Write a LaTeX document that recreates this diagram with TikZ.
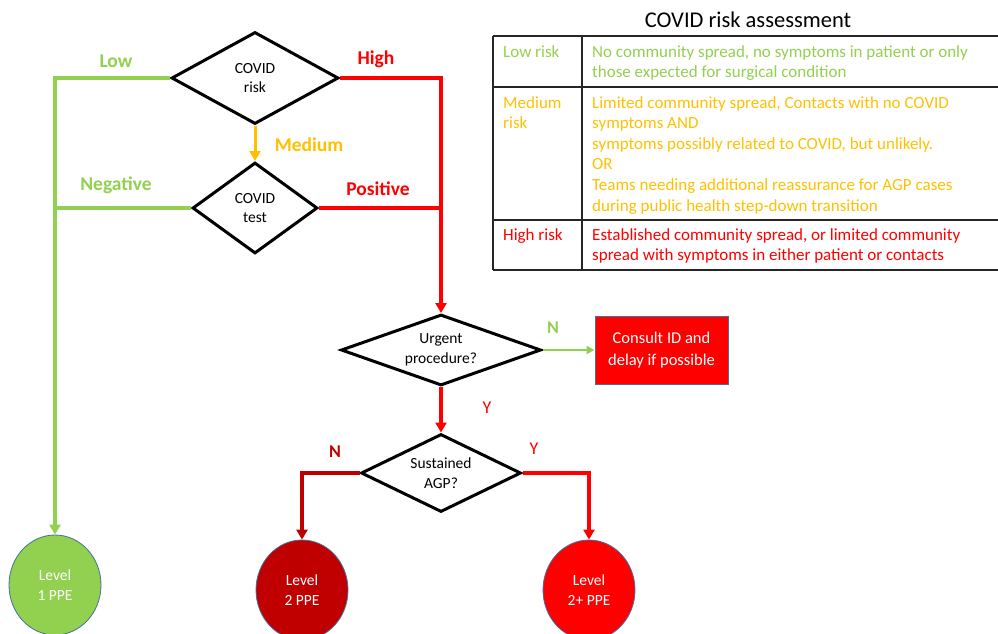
\documentclass[tikz,border=0pt]{standalone}
\usepackage{fontspec}
\setmainfont{Carlito}
\usepackage{xcolor}
\usepackage{tikz}
\usetikzlibrary{arrows.meta, positioning, calc, shapes.geometric}
\definecolor{lowgreen}{HTML}{92D050}
\definecolor{medorange}{HTML}{FFC000}
\definecolor{highred}{HTML}{FF0000}
\definecolor{deepred}{HTML}{C00000}
\definecolor{edgeblue}{HTML}{41719C}

\begin{document}
\begin{tikzpicture}[x=1pt,y=-1pt,
  decision/.style={diamond, draw=black, line width=3pt, inner sep=0pt, align=center, font=\fontsize{15.5}{19.5}\selectfont},
  level/.style={ellipse, draw=edgeblue, line width=0.8pt, minimum width=92pt, minimum height=100pt, inner sep=0pt, text=white, align=center, font=\fontsize{15.5}{20.5}\selectfont},
  wire/.style={line width=3.5pt},
  flow/.style={wire, -{Triangle[length=10pt,width=11pt]}},
  tag/.style={font=\bfseries\fontsize{19.5}{22}\selectfont},
  yn/.style={font=\fontsize{18}{20}\selectfont},
  cell/.style={anchor=north west, align=left, inner sep=0pt, font=\fontsize{17}{20.6}\selectfont}]
\useasboundingbox (0,0) rectangle (998,634);
% Decisions
\node[decision, aspect=1.8, minimum width=167pt, minimum height=92pt] (risk) at (255,78) {COVID\\risk};
\node[decision, aspect=1.37, minimum width=125pt, minimum height=91pt] (test) at (255,208) {COVID\\test};
\node[decision, aspect=2.8, minimum width=200pt, minimum height=71pt] (urgent) at (441,350) {Urgent\\procedure?};
\node[decision, aspect=2.05, minimum width=160pt, minimum height=78pt] (agp) at (441,473) {Sustained\\AGP?};
\node[draw=edgeblue, fill=highred, line width=1pt, minimum width=133pt, minimum height=68pt, text=white, align=center, font=\fontsize{16.5}{22}\selectfont] (consult) at (661.5,350) {Consult ID and\\delay if possible};
% Outcomes
\node[level, fill=lowgreen] (lone) at (55,585) {Level\\1 PPE};
\node[level, fill=deepred] (ltwo) at (302,590) {Level\\2 PPE};
\node[level, fill=highred] (ltwoplus) at (589,590) {Level\\2+ PPE};
% Connectors
\draw[flow, lowgreen] (risk.west) -| (lone.north);
\draw[wire, lowgreen] (test.west) -- (test.west -| lone.north);
\draw[flow, highred] (risk.east) -| (urgent.north);
\draw[wire, highred] (test.east) -- (test.east -| urgent.north);
\draw[flow, medorange, line width=3pt] (risk.south) -- (test.north);
\draw[lowgreen, line width=2.2pt, -{Triangle[length=8pt,width=8pt]}] (urgent.east) -- (consult.west);
\draw[flow, highred] (urgent.south) -- (agp.north);
\draw[flow, deepred] (agp.west) -| (ltwo.north);
\draw[flow, highred] (agp.east) -| (ltwoplus.north);
% Labels
\node[tag, lowgreen] (lowlbl) at (116,61) {Low};
\node[tag, highred] (highlbl) at (376,59) {High};
\node[tag, medorange] (medlbl) at (309,145) {Medium};
\node[tag, lowgreen] (neglbl) at (116,185) {Negative};
\node[tag, highred] (poslbl) at (378,189) {Positive};
\node[yn, lowgreen, font=\bfseries\fontsize{18}{20}\selectfont] (urgno) at (553,328) {N};
\node[yn, highred] (urgyes) at (487,408) {Y};
\node[yn, deepred, font=\bfseries\fontsize{18}{20}\selectfont] (agpno) at (335,452) {N};
\node[yn, highred] (agpyes) at (534,449) {Y};
% Risk table
\node[font=\fontsize{22.5}{25}\selectfont] (tabtitle) at (748,20) {COVID risk assessment};
\draw[line width=1.5pt, black!85] (493,36) -- (998,36) (493,87) -- (998,87) (493,220) -- (998,220) (493,270) -- (998,270);
\draw[line width=1.5pt, black!85] (493,36) -- (493,270) (582,36) -- (582,270);
\node[cell, lowgreen] (lowkey) at (503,45) {Low risk};
\node[cell, lowgreen] (lowtext) at (592,45) {No community spread, no symptoms in patient or only\\those expected for surgical condition};
\node[cell, medorange] (medkey) at (503,96) {Medium\\risk};
\node[cell, medorange] (medtext) at (592,96) {Limited community spread, Contacts with no COVID\\symptoms AND\\symptoms possibly related to COVID, but unlikely.\\OR\\Teams needing additional reassurance for AGP cases\\during public health step-down transition};
\node[cell, highred] (highkey) at (503,228) {High risk};
\node[cell, highred] (hightext) at (592,228) {Established community spread, or limited community\\spread with symptoms in either patient or contacts};
\end{tikzpicture}
\end{document}
